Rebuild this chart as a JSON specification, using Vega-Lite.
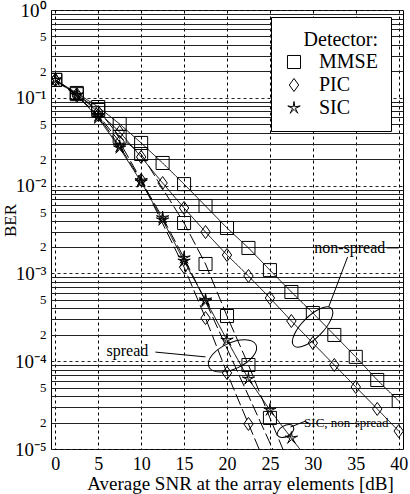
{
  "$schema": "https://vega.github.io/schema/vega-lite/v6.json",
  "width": 352,
  "height": 439,
  "autosize": {"type": "none"},
  "padding": {"left": 51, "top": 10, "right": 7, "bottom": 45},
  "background": "white",
  "config": {
    "view": {"stroke": "black", "strokeWidth": 1},
    "font": "Liberation Serif",
    "legend": {
      "orient": "none", "legendX": 220, "legendY": 7, "padding": 13,
      "strokeColor": "black", "fillColor": "white",
      "titleFont": "Liberation Serif", "titleFontSize": 20, "titleFontWeight": "normal", "titleColor": "black",
      "titleAnchor": "end",
      "labelFont": "Liberation Serif", "labelFontSize": 20, "labelColor": "black",
      "symbolSize": 170, "symbolStrokeColor": "black", "symbolStrokeWidth": 1, "symbolFillColor": "transparent",
      "rowPadding": 3, "labelOffset": 15, "titlePadding": 2, "titleLimit": 400
    }
  },
  "datasets": {
    "curves": [
      {"snr": 0, "ber": 0.16, "detector": "MMSE", "spreading": "non-spread"},
      {"snr": 2.5, "ber": 0.1135, "detector": "MMSE", "spreading": "non-spread"},
      {"snr": 5, "ber": 0.0785, "detector": "MMSE", "spreading": "non-spread"},
      {"snr": 7.5, "ber": 0.0503, "detector": "MMSE", "spreading": "non-spread"},
      {"snr": 10, "ber": 0.0306, "detector": "MMSE", "spreading": "non-spread"},
      {"snr": 12.5, "ber": 0.0181, "detector": "MMSE", "spreading": "non-spread"},
      {"snr": 15, "ber": 0.0104, "detector": "MMSE", "spreading": "non-spread"},
      {"snr": 17.5, "ber": 0.00586, "detector": "MMSE", "spreading": "non-spread"},
      {"snr": 20, "ber": 0.00329, "detector": "MMSE", "spreading": "non-spread"},
      {"snr": 22.5, "ber": 0.00195, "detector": "MMSE", "spreading": "non-spread"},
      {"snr": 25, "ber": 0.00109, "detector": "MMSE", "spreading": "non-spread"},
      {"snr": 27.5, "ber": 0.000614, "detector": "MMSE", "spreading": "non-spread"},
      {"snr": 30, "ber": 0.000354, "detector": "MMSE", "spreading": "non-spread"},
      {"snr": 32.5, "ber": 0.000199, "detector": "MMSE", "spreading": "non-spread"},
      {"snr": 35, "ber": 0.000112, "detector": "MMSE", "spreading": "non-spread"},
      {"snr": 37.5, "ber": 0.0000611, "detector": "MMSE", "spreading": "non-spread"},
      {"snr": 40, "ber": 0.0000352, "detector": "MMSE", "spreading": "non-spread"},
      {"snr": 0, "ber": 0.16, "detector": "PIC", "spreading": "non-spread"},
      {"snr": 2.5, "ber": 0.11, "detector": "PIC", "spreading": "non-spread"},
      {"snr": 5, "ber": 0.0689, "detector": "PIC", "spreading": "non-spread"},
      {"snr": 7.5, "ber": 0.0408, "detector": "PIC", "spreading": "non-spread"},
      {"snr": 10, "ber": 0.0212, "detector": "PIC", "spreading": "non-spread"},
      {"snr": 12.5, "ber": 0.0107, "detector": "PIC", "spreading": "non-spread"},
      {"snr": 15, "ber": 0.00556, "detector": "PIC", "spreading": "non-spread"},
      {"snr": 17.5, "ber": 0.00296, "detector": "PIC", "spreading": "non-spread"},
      {"snr": 20, "ber": 0.00162, "detector": "PIC", "spreading": "non-spread"},
      {"snr": 22.5, "ber": 0.000934, "detector": "PIC", "spreading": "non-spread"},
      {"snr": 25, "ber": 0.000525, "detector": "PIC", "spreading": "non-spread"},
      {"snr": 27.5, "ber": 0.000287, "detector": "PIC", "spreading": "non-spread"},
      {"snr": 30, "ber": 0.000161, "detector": "PIC", "spreading": "non-spread"},
      {"snr": 32.5, "ber": 0.0000905, "detector": "PIC", "spreading": "non-spread"},
      {"snr": 35, "ber": 0.0000509, "detector": "PIC", "spreading": "non-spread"},
      {"snr": 37.5, "ber": 0.0000286, "detector": "PIC", "spreading": "non-spread"},
      {"snr": 40, "ber": 0.000016, "detector": "PIC", "spreading": "non-spread"},
      {"snr": 0, "ber": 0.16, "detector": "SIC", "spreading": "non-spread"},
      {"snr": 2.5, "ber": 0.1076, "detector": "SIC", "spreading": "non-spread"},
      {"snr": 5, "ber": 0.0589, "detector": "SIC", "spreading": "non-spread"},
      {"snr": 7.5, "ber": 0.0268, "detector": "SIC", "spreading": "non-spread"},
      {"snr": 10, "ber": 0.011, "detector": "SIC", "spreading": "non-spread"},
      {"snr": 12.5, "ber": 0.00406, "detector": "SIC", "spreading": "non-spread"},
      {"snr": 15, "ber": 0.00138, "detector": "SIC", "spreading": "non-spread"},
      {"snr": 17.5, "ber": 0.000498, "detector": "SIC", "spreading": "non-spread"},
      {"snr": 20, "ber": 0.000174, "detector": "SIC", "spreading": "non-spread"},
      {"snr": 22.5, "ber": 0.0000627, "detector": "SIC", "spreading": "non-spread"},
      {"snr": 25, "ber": 0.0000278, "detector": "SIC", "spreading": "non-spread"},
      {"snr": 27.5, "ber": 0.0000133, "detector": "SIC", "spreading": "non-spread"},
      {"snr": 30, "ber": 0.0000064, "detector": "SIC", "spreading": "non-spread"},
      {"snr": 0, "ber": 0.16, "detector": "MMSE", "spreading": "spread"},
      {"snr": 2.5, "ber": 0.11, "detector": "MMSE", "spreading": "spread"},
      {"snr": 5, "ber": 0.0726, "detector": "MMSE", "spreading": "spread"},
      {"snr": 7.5, "ber": 0.036, "detector": "MMSE", "spreading": "spread"},
      {"snr": 10, "ber": 0.0229, "detector": "MMSE", "spreading": "spread"},
      {"snr": 15, "ber": 0.00375, "detector": "MMSE", "spreading": "spread"},
      {"snr": 17.5, "ber": 0.00128, "detector": "MMSE", "spreading": "spread"},
      {"snr": 20, "ber": 0.000327, "detector": "MMSE", "spreading": "spread"},
      {"snr": 22.5, "ber": 0.0000905, "detector": "MMSE", "spreading": "spread"},
      {"snr": 25, "ber": 0.0000226, "detector": "MMSE", "spreading": "spread"},
      {"snr": 27.5, "ber": 0.0000058, "detector": "MMSE", "spreading": "spread"},
      {"snr": 0, "ber": 0.16, "detector": "PIC", "spreading": "spread"},
      {"snr": 2.5, "ber": 0.105, "detector": "PIC", "spreading": "spread"},
      {"snr": 5, "ber": 0.0637, "detector": "PIC", "spreading": "spread"},
      {"snr": 7.5, "ber": 0.0314, "detector": "PIC", "spreading": "spread"},
      {"snr": 10, "ber": 0.0116, "detector": "PIC", "spreading": "spread"},
      {"snr": 15, "ber": 0.00118, "detector": "PIC", "spreading": "spread"},
      {"snr": 17.5, "ber": 0.00031, "detector": "PIC", "spreading": "spread"},
      {"snr": 20, "ber": 0.0000734, "detector": "PIC", "spreading": "spread"},
      {"snr": 22.5, "ber": 0.0000193, "detector": "PIC", "spreading": "spread"},
      {"snr": 25, "ber": 0.0000051, "detector": "PIC", "spreading": "spread"},
      {"snr": 0, "ber": 0.16, "detector": "SIC", "spreading": "spread"},
      {"snr": 2.5, "ber": 0.107, "detector": "SIC", "spreading": "spread"},
      {"snr": 5, "ber": 0.062, "detector": "SIC", "spreading": "spread"},
      {"snr": 7.5, "ber": 0.028, "detector": "SIC", "spreading": "spread"},
      {"snr": 10, "ber": 0.0114, "detector": "SIC", "spreading": "spread"},
      {"snr": 12.5, "ber": 0.0043, "detector": "SIC", "spreading": "spread"},
      {"snr": 15, "ber": 0.0015, "detector": "SIC", "spreading": "spread"},
      {"snr": 17.5, "ber": 0.00048, "detector": "SIC", "spreading": "spread"},
      {"snr": 27.5, "ber": 0.0000034, "detector": "SIC", "spreading": "spread"}
    ],
    "notes": [
      {"snr": 34.3, "ber": 0.00195, "text": "non-spread", "kind": "big"},
      {"snr": 8.4, "ber": 0.000131, "text": "spread", "kind": "big"},
      {"snr": 33.9, "ber": 0.0000198, "text": "SIC, non-spread", "kind": "small"}
    ],
    "leaders": [
      {"snr": 34.05, "ber": 0.00154, "snr2": 31.84, "ber2": 0.000414},
      {"snr": 38.6, "ber": 0.00195, "snr2": 40.0, "ber2": 0.00195},
      {"snr": 11.66, "ber": 0.000127, "snr2": 17.5, "ber2": 0.000112},
      {"snr": 29.15, "ber": 0.0000208, "snr2": 27.4, "ber2": 0.0000178}
    ],
    "loops": [
      {"snr": 29.97, "ber": 0.000245, "loop": "non-spread"},
      {"snr": 20.64, "ber": 0.000115, "loop": "spread"},
      {"snr": 26.82, "ber": 0.000016, "loop": "SIC"}
    ]
  },
  "layer": [
    {
      "data": {"name": "curves"},
      "mark": {"type": "line", "color": "black", "strokeWidth": 1, "clip": true},
      "encoding": {
        "x": {
          "field": "snr", "type": "quantitative",
          "scale": {"domain": [-0.5, 40.5], "nice": false, "zero": false},
          "axis": {
            "values": [0, 5, 10, 15, 20, 25, 30, 35, 40],
            "title": "Average SNR at the array elements [dB]",
            "grid": true, "gridDash": [3, 3], "gridColor": "black", "gridOpacity": 1,
            "ticks": false, "domain": false,
            "labelFont": "Liberation Serif", "labelFontSize": 18, "labelColor": "black", "labelPadding": 6, "labelFlush": false,
            "titleFont": "Liberation Serif", "titleFontSize": 19, "titleFontWeight": "normal", "titleColor": "black",
            "titleX": 189, "titleY": 40, "titleAlign": "center", "titleBaseline": "alphabetic"
          }
        },
        "y": {
          "field": "ber", "type": "quantitative",
          "scale": {"type": "log", "domain": [0.00001, 1], "nice": false},
          "axis": {
            "values": [0.00001, 0.00002, 0.00003, 0.00004, 0.00005, 0.00006, 0.00007, 0.00008, 0.00009,
                       0.0001, 0.0002, 0.0003, 0.0004, 0.0005, 0.0006, 0.0007, 0.0008, 0.0009,
                       0.001, 0.002, 0.003, 0.004, 0.005, 0.006, 0.007, 0.008, 0.009,
                       0.01, 0.02, 0.03, 0.04, 0.05, 0.06, 0.07, 0.08, 0.09,
                       0.1, 0.2, 0.3, 0.4, 0.5, 0.6, 0.7, 0.8, 0.9, 1],
            "labelExpr": "round(datum.value / pow(10, floor(log(datum.value) / LN10 + 1e-6))) == 1 ? '10' + ['⁰','⁻¹','⁻²','⁻³','⁻⁴','⁻⁵'][-floor(log(datum.value) / LN10 + 1e-6)] : ((round(datum.value / pow(10, floor(log(datum.value) / LN10 + 1e-6))) == 2 || round(datum.value / pow(10, floor(log(datum.value) / LN10 + 1e-6))) == 5) ? '' + round(datum.value / pow(10, floor(log(datum.value) / LN10 + 1e-6))) : '')",
            "labelFontSize": {"condition": {"test": "round(datum.value / pow(10, floor(log(datum.value) / LN10 + 1e-6))) == 1", "value": 19}, "value": 13},
            "gridDash": {"condition": {"test": "round(datum.value / pow(10, floor(log(datum.value) / LN10 + 1e-6))) == 1", "value": [3, 3]}, "value": []},
            "grid": true, "gridColor": "#222", "gridOpacity": 1,
            "ticks": false, "domain": false, "labelOverlap": false, "labelFlush": false,
            "labelFont": "Liberation Serif", "labelColor": "black", "labelPadding": 5,
            "title": "BER", "titleFont": "Liberation Serif", "titleFontSize": 17, "titleFontWeight": "normal", "titleColor": "black",
            "titleX": -41, "titleY": 210, "titleBaseline": "middle"
          }
        },
        "strokeDash": {
          "field": "spreading", "type": "nominal",
          "scale": {"domain": ["non-spread", "spread"], "range": [[1, 0], [12, 4]]},
          "legend": null
        },
        "detail": {"field": "detector", "type": "nominal"}
      }
    },
    {
      "data": {"name": "curves"},
      "mark": {"type": "point", "filled": false, "color": "black", "strokeWidth": 1, "size": 170, "opacity": 1, "clip": true},
      "encoding": {
        "x": {"field": "snr", "type": "quantitative", "scale": {"domain": [-0.5, 40.5], "nice": false, "zero": false}},
        "y": {"field": "ber", "type": "quantitative", "scale": {"type": "log", "domain": [0.00001, 1], "nice": false}},
        "shape": {
          "field": "detector", "type": "nominal",
          "scale": {"domain": ["MMSE", "PIC", "SIC"], "range": ["square", "M0,-1L0.72,0L0,1L-0.72,0Z", "M0,-1L0.13,-0.18L0.95,-0.31L0.21,0.07L0.59,0.81L0,0.22L-0.59,0.81L-0.21,0.07L-0.95,-0.31L-0.13,-0.18Z"]},
          "legend": {"title": "Detector:", "titleAnchor": "end"}
        }
      }
    },
    {
      "data": {"name": "notes"},
      "transform": [{"filter": "datum.kind == 'big'"}],
      "mark": {"type": "text", "font": "Liberation Serif", "fontSize": 16, "color": "black", "align": "center", "baseline": "middle"},
      "encoding": {
        "x": {"field": "snr", "type": "quantitative", "scale": {"domain": [-0.5, 40.5], "nice": false, "zero": false}},
        "y": {"field": "ber", "type": "quantitative", "scale": {"type": "log", "domain": [0.00001, 1], "nice": false}},
        "text": {"field": "text"}
      }
    },
    {
      "data": {"name": "notes"},
      "transform": [{"filter": "datum.kind == 'small'"}],
      "mark": {"type": "text", "font": "Liberation Serif", "fontSize": 13, "color": "black", "align": "center", "baseline": "middle"},
      "encoding": {
        "x": {"field": "snr", "type": "quantitative", "scale": {"domain": [-0.5, 40.5], "nice": false, "zero": false}},
        "y": {"field": "ber", "type": "quantitative", "scale": {"type": "log", "domain": [0.00001, 1], "nice": false}},
        "text": {"field": "text"}
      }
    },
    {
      "data": {"name": "leaders"},
      "mark": {"type": "rule", "color": "black", "strokeWidth": 1},
      "encoding": {
        "x": {"field": "snr", "type": "quantitative", "scale": {"domain": [-0.5, 40.5], "nice": false, "zero": false}},
        "y": {"field": "ber", "type": "quantitative", "scale": {"type": "log", "domain": [0.00001, 1], "nice": false}},
        "x2": {"field": "snr2"},
        "y2": {"field": "ber2"}
      }
    },
    {
      "data": {"name": "loops"},
      "transform": [{"filter": "datum.loop == 'non-spread'"}],
      "mark": {"type": "point", "shape": "M-1,0A1,0.4,0,1,1,1,0A1,0.4,0,1,1,-1,0Z", "size": 2809, "angle": -45, "stroke": "black", "strokeWidth": 1, "fill": "transparent", "opacity": 1},
      "encoding": {
        "x": {"field": "snr", "type": "quantitative", "scale": {"domain": [-0.5, 40.5], "nice": false, "zero": false}},
        "y": {"field": "ber", "type": "quantitative", "scale": {"type": "log", "domain": [0.00001, 1], "nice": false}}
      }
    },
    {
      "data": {"name": "loops"},
      "transform": [{"filter": "datum.loop == 'spread'"}],
      "mark": {"type": "point", "shape": "M-1,0A1,0.5,0,1,1,1,0A1,0.5,0,1,1,-1,0Z", "size": 2704, "angle": -25, "stroke": "black", "strokeWidth": 1, "fill": "transparent", "opacity": 1},
      "encoding": {
        "x": {"field": "snr", "type": "quantitative", "scale": {"domain": [-0.5, 40.5], "nice": false, "zero": false}},
        "y": {"field": "ber", "type": "quantitative", "scale": {"type": "log", "domain": [0.00001, 1], "nice": false}}
      }
    },
    {
      "data": {"name": "loops"},
      "transform": [{"filter": "datum.loop == 'SIC'"}],
      "mark": {"type": "point", "shape": "M-1,0A1,0.6,0,1,1,1,0A1,0.6,0,1,1,-1,0Z", "size": 324, "angle": -30, "stroke": "black", "strokeWidth": 1, "fill": "transparent", "opacity": 1},
      "encoding": {
        "x": {"field": "snr", "type": "quantitative", "scale": {"domain": [-0.5, 40.5], "nice": false, "zero": false}},
        "y": {"field": "ber", "type": "quantitative", "scale": {"type": "log", "domain": [0.00001, 1], "nice": false}}
      }
    }
  ]
}
